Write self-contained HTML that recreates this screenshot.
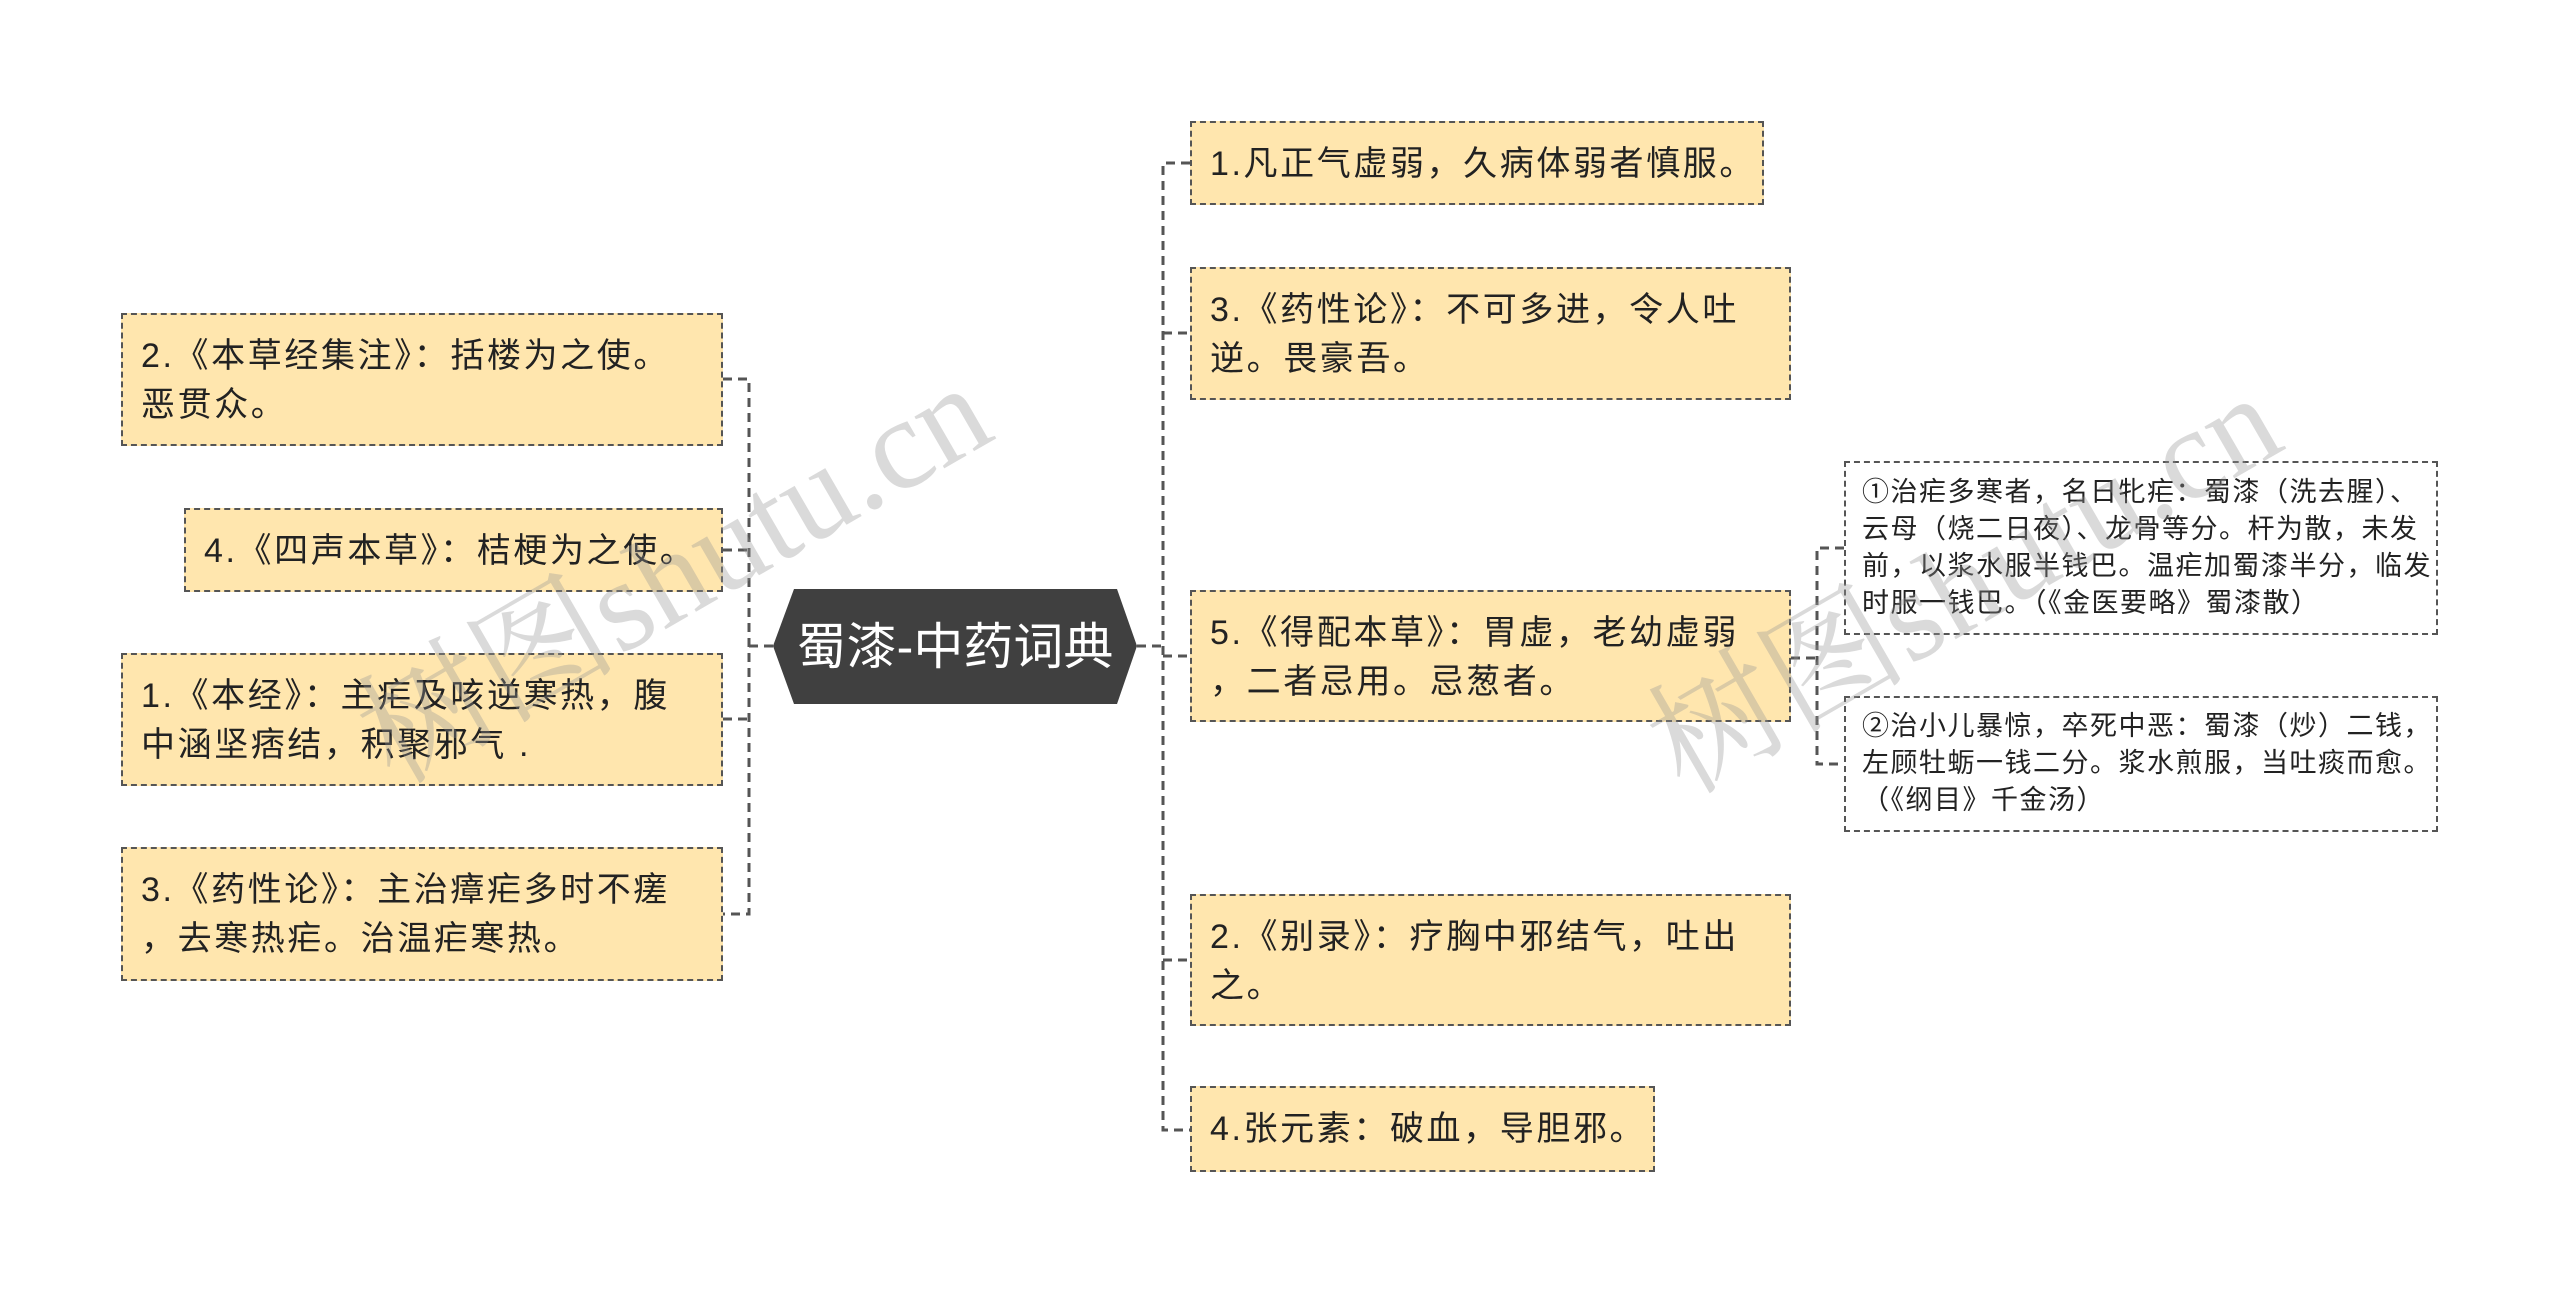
<!DOCTYPE html>
<html><head><meta charset="utf-8"><style>
body{margin:0;width:2560px;height:1294px;background:#fff;position:relative;overflow:hidden;font-family:"Liberation Sans","Noto Sans CJK SC",sans-serif;}
.b{position:absolute;box-sizing:border-box;background:#ffe6ae;border:2px dashed #555;color:#222;font-size:34px;letter-spacing:2.6px;line-height:49px;padding:17px 18px 0;white-space:nowrap;}
.s{position:absolute;box-sizing:border-box;background:#fff;border:2px dashed #555;color:#222;font-size:27px;letter-spacing:1.5px;line-height:37px;padding:12px 16px;white-space:nowrap;}
.wm{position:absolute;color:rgba(150,150,150,0.35);font-family:"Liberation Serif","Noto Serif CJK SC",serif;font-size:130px;transform:rotate(-30deg);white-space:nowrap;}
</style></head><body>
<svg width="2560" height="1294" style="position:absolute;left:0;top:0">
<g stroke="#555" stroke-width="3" fill="none" stroke-dasharray="9,6">
<path d="M723 379H749V914H723M723 550H749M723 719H749M749 646H773"/>
<path d="M1190 163H1163V1130H1190M1163 333H1190M1163 656H1190M1163 960H1190M1137 646H1163"/>
<path d="M1791 658H1817M1844 548H1817V764H1844"/>
</g>
<polygon points="773,646 794,589 1117,589 1137,646 1117,704 794,704" fill="#404040"/>
<text x="955" y="664" fill="#fff" font-size="50" text-anchor="middle" font-family="Liberation Sans,Noto Sans CJK SC,sans-serif">蜀漆-中药词典</text>
</svg>
<div class="b" style="left:121px;top:313px;width:602px;height:133px">2.《本草经集注》：括楼为之使。<br>恶贯众。</div>
<div class="b" style="left:184px;top:508px;width:539px;height:84px">4.《四声本草》：桔梗为之使。</div>
<div class="b" style="left:121px;top:653px;width:602px;height:133px">1.《本经》：主疟及咳逆寒热，腹<br>中涵坚痞结，积聚邪气 .</div>
<div class="b" style="left:121px;top:847px;width:602px;height:134px">3.《药性论》：主治瘴疟多时不瘥<br>，去寒热疟。治温疟寒热。</div>
<div class="b" style="left:1190px;top:121px;width:574px;height:84px">1.凡正气虚弱，久病体弱者慎服。</div>
<div class="b" style="left:1190px;top:267px;width:601px;height:133px">3.《药性论》：不可多进，令人吐<br>逆。畏豪吾。</div>
<div class="b" style="left:1190px;top:590px;width:601px;height:132px">5.《得配本草》：胃虚，老幼虚弱<br>，二者忌用。忌葱者。</div>
<div class="b" style="left:1190px;top:894px;width:601px;height:132px">2.《别录》：疗胸中邪结气，吐出<br>之。</div>
<div class="b" style="left:1190px;top:1086px;width:465px;height:86px">4.张元素：破血，导胆邪。</div>
<div class="s" style="left:1844px;top:461px;width:594px;height:174px;padding-top:11px">①治疟多寒者，名日牝疟：蜀漆（洗去腥）、<br>云母（烧二日夜）、龙骨等分。杆为散，未发<br>前，以浆水服半钱巴。温疟加蜀漆半分，临发<br>时服一钱巴。（《金医要略》蜀漆散）</div>
<div class="s" style="left:1844px;top:696px;width:594px;height:136px;padding-top:10px">②治小儿暴惊，卒死中恶：蜀漆（炒）二钱，<br>左顾牡蛎一钱二分。浆水煎服，当吐痰而愈。<br>（《纲目》千金汤）</div>
<div class="wm" style="left:320px;top:470px">树图shutu.cn</div>
<div class="wm" style="left:1610px;top:480px">树图shutu.cn</div>
</body></html>
